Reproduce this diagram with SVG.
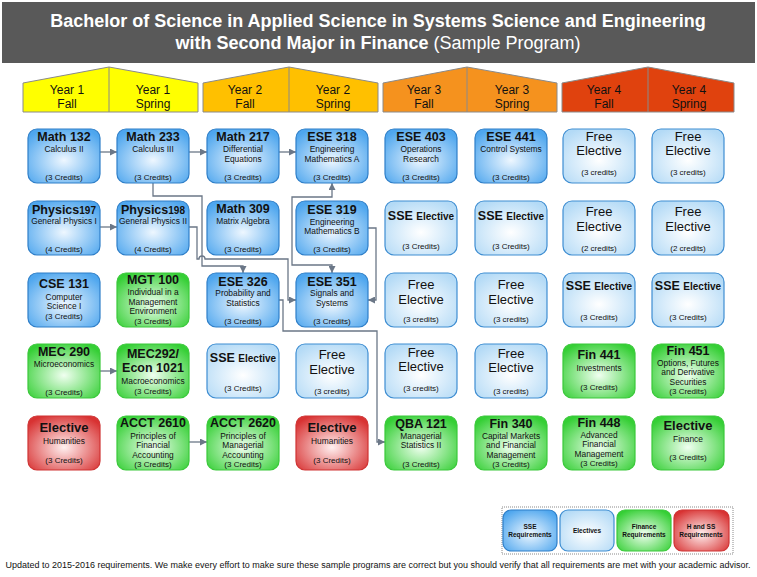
<svg xmlns="http://www.w3.org/2000/svg" width="757" height="577" viewBox="0 0 757 577">
<style>
text{font-family:"Liberation Sans",Arial,sans-serif;fill:#111;text-anchor:middle}
.t{font-size:12.5px;font-weight:bold}
.tn{font-size:10px;font-weight:bold}
.s{font-size:8.4px}
.c{font-size:8px}
.fe{font-size:13px}
.yr{font-size:12px}
.lg{font-size:6.5px;font-weight:bold}
.box{stroke-width:1.2}
.sse{fill:url(#gB);stroke:#2f7fc8}
.el{fill:url(#gL);stroke:#3f8ed2}
.fin{fill:url(#gG);stroke:#3bc83b}
.hss{fill:url(#gR);stroke:#cf3434}
.cn{fill:none;stroke:#6b7787;stroke-width:1.3}
.house{stroke:#8a8a8a;stroke-width:1}
</style>
<defs>
<radialGradient id="gB" cx="50%" cy="58%" r="65%"><stop offset="0" stop-color="#eef7ff"/><stop offset="1" stop-color="#4ea6ee"/></radialGradient>
<radialGradient id="gL" cx="50%" cy="58%" r="65%"><stop offset="0" stop-color="#ffffff"/><stop offset="1" stop-color="#b3daf6"/></radialGradient>
<radialGradient id="gG" cx="50%" cy="58%" r="65%"><stop offset="0" stop-color="#f0fff0"/><stop offset="1" stop-color="#35cf35"/></radialGradient>
<radialGradient id="gR" cx="50%" cy="58%" r="65%"><stop offset="0" stop-color="#fff0f0"/><stop offset="1" stop-color="#d83232"/></radialGradient>
<marker id="ah" viewBox="0 0 10 10" refX="10" refY="5" markerWidth="7" markerHeight="7" markerUnits="userSpaceOnUse" orient="auto-start-reverse"><path d="M0,0 L10,5 L0,10 z" fill="#6b7787"/></marker>
</defs>

<g id="title">
<rect x="2" y="2" width="753" height="61" fill="#595959"/>
<text x="378" y="27" style="font-size:18px;font-weight:bold;fill:#fff">Bachelor of Science in Applied Science in Systems Science and Engineering</text>
<text x="378" y="49" style="font-size:18px;fill:#fff"><tspan font-weight="bold">with Second Major in Finance</tspan> (Sample Program)</text>
</g>

<g id="year1">
<path class="house" d="M23,112 V83 L109,67 L198,83 V112 Z" fill="#ffff00"/>
<line class="house" x1="109" y1="67" x2="109" y2="112"/>
<text class="yr" x="67" y="94">Year 1</text><text class="yr" x="67" y="108">Fall</text>
<text class="yr" x="153" y="94">Year 1</text><text class="yr" x="153" y="108">Spring</text>
</g>
<g id="year2">
<path class="house" d="M203,112 V83 L289,67 L378,83 V112 Z" fill="#ffc000"/>
<line class="house" x1="289" y1="67" x2="289" y2="112"/>
<text class="yr" x="245" y="94">Year 2</text><text class="yr" x="245" y="108">Fall</text>
<text class="yr" x="333" y="94">Year 2</text><text class="yr" x="333" y="108">Spring</text>
</g>
<g id="year3">
<path class="house" d="M383,112 V83 L467,67 L557,83 V112 Z" fill="#f5921e"/>
<line class="house" x1="467" y1="67" x2="467" y2="112"/>
<text class="yr" x="424" y="94">Year 3</text><text class="yr" x="424" y="108">Fall</text>
<text class="yr" x="512" y="94">Year 3</text><text class="yr" x="512" y="108">Spring</text>
</g>
<g id="year4">
<path class="house" d="M562,112 V83 L648,67 L734,83 V112 Z" fill="#e0420e"/>
<line class="house" x1="648" y1="67" x2="648" y2="112"/>
<text class="yr" x="604" y="94">Year 4</text><text class="yr" x="604" y="108">Fall</text>
<text class="yr" x="689" y="94">Year 4</text><text class="yr" x="689" y="108">Spring</text>
</g>

<g id="connectors">
<path class="cn" marker-end="url(#ah)" d="M100,152 H117"/>
<path class="cn" marker-end="url(#ah)" d="M189,152 H207"/>
<path class="cn" marker-end="url(#ah)" d="M279,152 H296"/>
<path class="cn" marker-end="url(#ah)" d="M100,227 H117"/>
<path class="cn" marker-end="url(#ah)" d="M100,371 H117"/>
<path class="cn" marker-end="url(#ah)" d="M189,442 H207"/>
<path class="cn" marker-end="url(#ah)" d="M153,183 V196 H202 V266 H243 V273"/>
<path class="cn" marker-end="url(#ah)" d="M189,227 H197 V259 H199 A3,3 0 0 1 205,259 H288 V300 H296"/>
<path class="cn" marker-start="url(#ah)" marker-end="url(#ah)" d="M332,183 V197 H292 V265 H332 V273"/>
<path class="cn" marker-end="url(#ah)" d="M368,228 H376 V300 H368"/>
<path class="cn" marker-end="url(#ah)" d="M279,300 H283 V331 H377 V442 H385"/>
</g>

<!-- Row 1 -->
<g id="math132"><rect class="box sse" x="28" y="129" width="72" height="54" rx="9"/>
<text class="t" x="64" y="141">Math 132</text><text class="s" x="64" y="152">Calculus II</text><text class="c" x="64" y="180">(3 Credits)</text></g>
<g id="math233"><rect class="box sse" x="117" y="129" width="72" height="54" rx="9"/>
<text class="t" x="153" y="141">Math 233</text><text class="s" x="153" y="152">Calculus III</text><text class="c" x="153" y="180">(3 Credits)</text></g>
<g id="math217"><rect class="box sse" x="207" y="129" width="72" height="54" rx="9"/>
<text class="t" x="243" y="141">Math 217</text><text class="s" x="243" y="152">Differential</text><text class="s" x="243" y="162">Equations</text><text class="c" x="243" y="180">(3 Credits)</text></g>
<g id="ese318"><rect class="box sse" x="296" y="129" width="72" height="54" rx="9"/>
<text class="t" x="332" y="141">ESE 318</text><text class="s" x="332" y="152">Engineering</text><text class="s" x="332" y="162">Mathematics A</text><text class="c" x="332" y="180">(3 Credits)</text></g>
<g id="ese403"><rect class="box sse" x="385" y="129" width="72" height="54" rx="9"/>
<text class="t" x="421" y="141">ESE 403</text><text class="s" x="421" y="152">Operations</text><text class="s" x="421" y="162">Research</text><text class="c" x="421" y="180">(3 Credits)</text></g>
<g id="ese441"><rect class="box sse" x="475" y="129" width="72" height="54" rx="9"/>
<text class="t" x="511" y="141">ESE 441</text><text class="s" x="511" y="152">Control Systems</text><text class="c" x="511" y="180">(3 Credits)</text></g>
<g id="free41"><rect class="box el" x="563" y="129" width="72" height="54" rx="9"/>
<text class="fe" x="599" y="141">Free</text><text class="fe" x="599" y="155">Elective</text><text class="c" x="599" y="175">(3 credits)</text></g>
<g id="free42"><rect class="box el" x="652" y="129" width="72" height="54" rx="9"/>
<text class="fe" x="688" y="141">Free</text><text class="fe" x="688" y="155">Elective</text><text class="c" x="688" y="175">(3 credits)</text></g>

<!-- Row 2 -->
<g id="phys197"><rect class="box sse" x="28" y="201" width="72" height="54" rx="9"/>
<text class="t" x="64" y="214">Physics<tspan class="tn">197</tspan></text><text class="s" x="64" y="224">General Physics I</text><text class="c" x="64" y="252">(4 Credits)</text></g>
<g id="phys198"><rect class="box sse" x="117" y="201" width="72" height="54" rx="9"/>
<text class="t" x="153" y="214">Physics<tspan class="tn">198</tspan></text><text class="s" x="153" y="224">General Physics II</text><text class="c" x="153" y="252">(4 Credits)</text></g>
<g id="math309"><rect class="box sse" x="207" y="201" width="72" height="54" rx="9"/>
<text class="t" x="243" y="213">Math 309</text><text class="s" x="243" y="224">Matrix Algebra</text><text class="c" x="243" y="252">(3 Credits)</text></g>
<g id="ese319"><rect class="box sse" x="296" y="201" width="72" height="54" rx="9"/>
<text class="t" x="332" y="214">ESE 319</text><text class="s" x="332" y="225">Engineering</text><text class="s" x="332" y="234">Mathematics B</text><text class="c" x="332" y="252">(3 Credits)</text></g>
<g id="sse31"><rect class="box el" x="385" y="201" width="72" height="54" rx="9"/>
<text class="t" x="421" y="220">SSE <tspan class="tn">Elective</tspan></text><text class="c" x="421" y="249">(3 Credits)</text></g>
<g id="sse32"><rect class="box el" x="475" y="201" width="72" height="54" rx="9"/>
<text class="t" x="511" y="220">SSE <tspan class="tn">Elective</tspan></text><text class="c" x="511" y="249">(3 Credits)</text></g>
<g id="free43"><rect class="box el" x="563" y="201" width="72" height="54" rx="9"/>
<text class="fe" x="599" y="216">Free</text><text class="fe" x="599" y="231">Elective</text><text class="c" x="599" y="251">(2 credits)</text></g>
<g id="free44"><rect class="box el" x="652" y="201" width="72" height="54" rx="9"/>
<text class="fe" x="688" y="216">Free</text><text class="fe" x="688" y="231">Elective</text><text class="c" x="688" y="251">(2 credits)</text></g>

<!-- Row 3 -->
<g id="cse131"><rect class="box sse" x="28" y="273" width="72" height="54" rx="9"/>
<text class="t" x="64" y="288">CSE 131</text><text class="s" x="64" y="300">Computer</text><text class="s" x="64" y="309">Science I</text><text class="c" x="64" y="319">(3 Credits)</text></g>
<g id="mgt100"><rect class="box fin" x="117" y="273" width="72" height="54" rx="9"/>
<text class="t" x="153" y="284">MGT 100</text><text class="s" x="153" y="295">Individual in a</text><text class="s" x="153" y="305">Management</text><text class="s" x="153" y="314">Environment</text><text class="c" x="153" y="324">(3 Credits)</text></g>
<g id="ese326"><rect class="box sse" x="207" y="273" width="72" height="54" rx="9"/>
<text class="t" x="243" y="286">ESE 326</text><text class="s" x="243" y="296">Probability and</text><text class="s" x="243" y="306">Statistics</text><text class="c" x="243" y="324">(3 Credits)</text></g>
<g id="ese351"><rect class="box sse" x="296" y="273" width="72" height="54" rx="9"/>
<text class="t" x="332" y="286">ESE 351</text><text class="s" x="332" y="296">Signals and</text><text class="s" x="332" y="306">Systems</text><text class="c" x="332" y="324">(3 Credits)</text></g>
<g id="free31"><rect class="box el" x="385" y="273" width="72" height="54" rx="9"/>
<text class="fe" x="421" y="289">Free</text><text class="fe" x="421" y="304">Elective</text><text class="c" x="421" y="322">(3 credits)</text></g>
<g id="free32"><rect class="box el" x="475" y="273" width="72" height="54" rx="9"/>
<text class="fe" x="511" y="289">Free</text><text class="fe" x="511" y="304">Elective</text><text class="c" x="511" y="322">(3 credits)</text></g>
<g id="sse41"><rect class="box el" x="563" y="273" width="72" height="54" rx="9"/>
<text class="t" x="599" y="290">SSE <tspan class="tn">Elective</tspan></text><text class="c" x="599" y="320">(3 Credits)</text></g>
<g id="sse42"><rect class="box el" x="652" y="273" width="72" height="54" rx="9"/>
<text class="t" x="688" y="290">SSE <tspan class="tn">Elective</tspan></text><text class="c" x="688" y="320">(3 Credits)</text></g>

<!-- Row 4 -->
<g id="mec290"><rect class="box fin" x="28" y="344" width="72" height="54" rx="9"/>
<text class="t" x="64" y="356">MEC 290</text><text class="s" x="64" y="367">Microeconomics</text><text class="c" x="64" y="395">(3 Credits)</text></g>
<g id="mec292"><rect class="box fin" x="117" y="344" width="72" height="54" rx="9"/>
<text class="t" x="153" y="358">MEC292/</text><text class="t" x="153" y="372">Econ 1021</text><text class="s" x="153" y="384">Macroeconomics</text><text class="c" x="153" y="394">(3 Credits)</text></g>
<g id="sse21"><rect class="box el" x="207" y="344" width="72" height="54" rx="9"/>
<text class="t" x="243" y="362">SSE <tspan class="tn">Elective</tspan></text><text class="c" x="243" y="391">(3 Credits)</text></g>
<g id="free22"><rect class="box el" x="296" y="344" width="72" height="54" rx="9"/>
<text class="fe" x="332" y="359">Free</text><text class="fe" x="332" y="374">Elective</text><text class="c" x="332" y="394">(3 credits)</text></g>
<g id="free33"><rect class="box el" x="385" y="344" width="72" height="54" rx="9"/>
<text class="fe" x="421" y="357">Free</text><text class="fe" x="421" y="371">Elective</text><text class="c" x="421" y="391">(3 credits)</text></g>
<g id="free34"><rect class="box el" x="475" y="344" width="72" height="54" rx="9"/>
<text class="fe" x="511" y="358">Free</text><text class="fe" x="511" y="372">Elective</text><text class="c" x="511" y="394">(3 credits)</text></g>
<g id="fin441"><rect class="box fin" x="563" y="344" width="72" height="54" rx="9"/>
<text class="t" x="599" y="359">Fin 441</text><text class="s" x="599" y="371">Investments</text><text class="c" x="599" y="390">(3 Credits)</text></g>
<g id="fin451"><rect class="box fin" x="652" y="344" width="72" height="54" rx="9"/>
<text class="t" x="688" y="355">Fin 451</text><text class="s" x="688" y="366">Options, Futures</text><text class="s" x="688" y="375">and Derivative</text><text class="s" x="688" y="385">Securities</text><text class="c" x="688" y="394">(3 Credits)</text></g>

<!-- Row 5 -->
<g id="hum1"><rect class="box hss" x="28" y="416" width="72" height="54" rx="9"/>
<text class="t" x="64" y="432" style="font-size:13px">Elective</text><text class="s" x="64" y="444">Humanities</text><text class="c" x="64" y="463">(3 Credits)</text></g>
<g id="acct2610"><rect class="box fin" x="117" y="416" width="72" height="54" rx="9"/>
<text class="t" x="153" y="427">ACCT 2610</text><text class="s" x="153" y="439">Principles of</text><text class="s" x="153" y="448">Financial</text><text class="s" x="153" y="458">Accounting</text><text class="c" x="153" y="467">(3 Credits)</text></g>
<g id="acct2620"><rect class="box fin" x="207" y="416" width="72" height="54" rx="9"/>
<text class="t" x="243" y="427">ACCT 2620</text><text class="s" x="243" y="439">Principles of</text><text class="s" x="243" y="448">Managerial</text><text class="s" x="243" y="458">Accounting</text><text class="c" x="243" y="467">(3 Credits)</text></g>
<g id="hum2"><rect class="box hss" x="296" y="416" width="72" height="54" rx="9"/>
<text class="t" x="332" y="432" style="font-size:13px">Elective</text><text class="s" x="332" y="444">Humanities</text><text class="c" x="332" y="463">(3 Credits)</text></g>
<g id="qba121"><rect class="box fin" x="385" y="416" width="72" height="54" rx="9"/>
<text class="t" x="421" y="428">QBA 121</text><text class="s" x="421" y="439">Managerial</text><text class="s" x="421" y="448">Statistics II</text><text class="c" x="421" y="467">(3 Credits)</text></g>
<g id="fin340"><rect class="box fin" x="475" y="416" width="72" height="54" rx="9"/>
<text class="t" x="511" y="428">Fin 340</text><text class="s" x="511" y="439">Capital Markets</text><text class="s" x="511" y="448">and Financial</text><text class="s" x="511" y="458">Management</text><text class="c" x="511" y="467">(3 Credits)</text></g>
<g id="fin448"><rect class="box fin" x="563" y="416" width="72" height="54" rx="9"/>
<text class="t" x="599" y="427">Fin 448</text><text class="s" x="599" y="438">Advanced</text><text class="s" x="599" y="447">Financial</text><text class="s" x="599" y="457">Management</text><text class="c" x="599" y="466">(3 Credits)</text></g>
<g id="finelec"><rect class="box fin" x="652" y="416" width="72" height="54" rx="9"/>
<text class="t" x="688" y="430" style="font-size:13px">Elective</text><text class="s" x="688" y="442">Finance</text><text class="c" x="688" y="460">(3 Credits)</text></g>

<g id="legend">
<rect x="502" y="507" width="231" height="47" fill="#fff" stroke="#8a8a8a" stroke-width="1" stroke-dasharray="1,1"/>
<rect class="box sse" x="503" y="510" width="54" height="41" rx="8"/>
<text class="lg" x="530" y="529">SSE</text><text class="lg" x="530" y="537">Requirements</text>
<rect class="box el" x="560" y="510" width="54" height="41" rx="8"/>
<text class="lg" x="587" y="533">Electives</text>
<rect class="box fin" x="617" y="510" width="54" height="41" rx="8"/>
<text class="lg" x="644" y="529">Finance</text><text class="lg" x="644" y="537">Requirements</text>
<rect class="box hss" x="674" y="510" width="55" height="41" rx="8"/>
<text class="lg" x="701" y="529">H and SS</text><text class="lg" x="701" y="537">Requirements</text>
</g>

<g id="footer">
<text x="378" y="568" style="font-size:8.5px" textLength="745" lengthAdjust="spacingAndGlyphs">Updated to 2015-2016 requirements. We make every effort to make sure these sample programs are correct but you should verify that all requirements are met with your academic advisor.</text>
</g>
</svg>
